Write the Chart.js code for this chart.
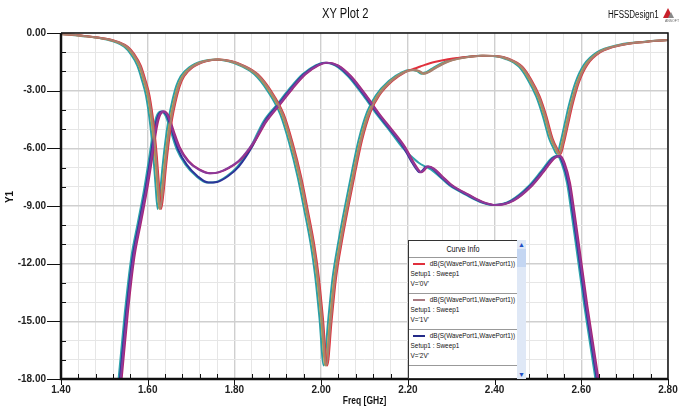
<!DOCTYPE html>
<html>
<head>
<meta charset="utf-8">
<title>XY Plot 2</title>
<script src="https://cdn.jsdelivr.net/npm/chart.js@4.4.1/dist/chart.umd.min.js"></script>
<style>
  html, body { margin: 0; padding: 0; background: #fff; }
  #wrap { position: relative; width: 692px; height: 408px; font-family: 'Liberation Sans', Arial, sans-serif; color: #111; }
  #plot { position: absolute; left: 0; top: 0; }
  .narrow { transform: scaleX(0.8); transform-origin: 0 0; white-space: nowrap; }
  #title { position: absolute; left: 322px; top: 5px; font-size: 14px; }
  #design { position: absolute; left: 608px; top: 9px; font-size: 10px; }
  #logo { position: absolute; left: 661px; top: 7px; }
  #curveInfo { position: absolute; left: 408px; top: 240px; width: 108px; height: 137px; border: 1px solid #333; background: #fff; overflow: hidden; }
  #curveInfo .inner { width: 135px; font-size: 8px; color: #111; }
  #curveInfo .head { height: 16px; line-height: 16px; text-align: center; font-size: 9px; border-bottom: 1px solid #999; }
  #curveInfo .entry { height: 36px; box-sizing: border-box; border-bottom: 1px solid #999; padding: 1px 0 0 2px; line-height: 10px; white-space: nowrap; }
  #curveInfo .swatch { display: inline-block; width: 15px; height: 2px; vertical-align: middle; margin: 0 6px 0 3px; }
  #scroll { position: absolute; left: 517px; top: 240px; width: 9px; height: 139px; background: #dfe8f6; }
  #scroll .thumb { position: absolute; left: 0; top: 9px; width: 9px; height: 18px; background: #c4d6f2; }
  #scroll .arr { position: absolute; left: 0; width: 9px; text-align: center; font-size: 7px; line-height: 9px; color: #1e4fc4; }
</style>
</head>
<body>
<div id="wrap">
  <canvas id="plot" width="692" height="408"></canvas>
  <div id="title" class="narrow">XY Plot 2</div>
  <div id="design" class="narrow">HFSSDesign1</div>
  <svg id="logo" width="22" height="16" viewBox="0 0 22 16">
    <polygon points="2,11 7,1 12,11" fill="#c8202a"/>
    <polygon points="7,11 10,5 13,11" fill="#888"/>
    <text x="11" y="15" font-size="3.5" text-anchor="middle" fill="#666" font-family="Liberation Sans, Arial">ANSOFT</text>
  </svg>
  <div id="curveInfo"><div class="inner narrow" id="curveInner"></div></div>
  <div id="scroll">
    <div class="thumb"></div>
    <div class="arr" style="top:0">&#9650;</div>
    <div class="arr" style="bottom:0">&#9660;</div>
  </div>
</div>
<script>
// ---- data ----
const xTickLabels = ['1.40', '1.60', '1.80', '2.00', '2.20', '2.40', '2.60', '2.80'];

// dB(S(WavePort1,WavePort1)) - frequencies [GHz] per bias voltage
const freqS11_0V = [
  1.40, 1.454, 1.504, 1.534, 1.554, 1.569, 1.584, 1.594, 1.604, 1.614,
  1.621, 1.626, 1.631, 1.636, 1.642, 1.649, 1.656, 1.664, 1.674, 1.684,
  1.704, 1.734, 1.764, 1.794, 1.824, 1.854, 1.884, 1.914, 1.934, 1.954,
  1.969, 1.984, 1.994, 2.004, 2.014, 2.024, 2.034, 2.049, 2.064, 2.079,
  2.094, 2.114, 2.134, 2.164, 2.194, 2.214, 2.229, 2.239, 2.249, 2.264,
  2.284, 2.304, 2.334, 2.374, 2.404, 2.434, 2.464, 2.484, 2.504, 2.519,
  2.534, 2.544, 2.552, 2.560, 2.569, 2.579, 2.594, 2.614, 2.644, 2.694,
  2.754, 2.80
];
const freqS11_1V = [
  1.40, 1.452, 1.502, 1.532, 1.552, 1.567, 1.582, 1.592, 1.602, 1.612,
  1.619, 1.624, 1.629, 1.634, 1.640, 1.647, 1.654, 1.662, 1.672, 1.682,
  1.702, 1.732, 1.762, 1.792, 1.822, 1.852, 1.882, 1.912, 1.932, 1.952,
  1.967, 1.982, 1.992, 2.002, 2.012, 2.022, 2.032, 2.047, 2.062, 2.077,
  2.092, 2.112, 2.132, 2.162, 2.192, 2.212, 2.227, 2.237, 2.247, 2.262,
  2.282, 2.302, 2.332, 2.372, 2.402, 2.432, 2.462, 2.482, 2.502, 2.517,
  2.532, 2.542, 2.550, 2.558, 2.567, 2.577, 2.592, 2.612, 2.642, 2.692,
  2.752, 2.80
];
const freqS11_2V = [
  1.40, 1.45, 1.50, 1.53, 1.55, 1.565, 1.58, 1.59, 1.60, 1.61,
  1.617, 1.622, 1.627, 1.632, 1.638, 1.645, 1.652, 1.66, 1.67, 1.68,
  1.70, 1.73, 1.76, 1.79, 1.82, 1.85, 1.88, 1.91, 1.93, 1.95,
  1.965, 1.98, 1.99, 2.00, 2.01, 2.02, 2.03, 2.045, 2.06, 2.075,
  2.09, 2.11, 2.13, 2.16, 2.19, 2.21, 2.225, 2.235, 2.245, 2.26,
  2.28, 2.30, 2.33, 2.37, 2.40, 2.43, 2.46, 2.48, 2.50, 2.515,
  2.53, 2.54, 2.548, 2.556, 2.565, 2.575, 2.59, 2.61, 2.64, 2.69,
  2.75, 2.80
];
const freqS11_3V = [
  1.40, 1.446, 1.496, 1.526, 1.546, 1.561, 1.576, 1.586, 1.596, 1.606,
  1.613, 1.618, 1.623, 1.628, 1.634, 1.641, 1.648, 1.656, 1.666, 1.676,
  1.696, 1.726, 1.756, 1.786, 1.816, 1.846, 1.876, 1.906, 1.926, 1.946,
  1.961, 1.976, 1.986, 1.996, 2.006, 2.016, 2.026, 2.041, 2.056, 2.071,
  2.086, 2.106, 2.126, 2.156, 2.186, 2.206, 2.221, 2.231, 2.241, 2.256,
  2.276, 2.296, 2.326, 2.366, 2.396, 2.426, 2.456, 2.476, 2.496, 2.511,
  2.526, 2.536, 2.544, 2.552, 2.561, 2.571, 2.586, 2.606, 2.636, 2.686,
  2.746, 2.80
];
// dB values
const dbS11 = [
  -0.05, -0.15, -0.30, -0.48, -0.72, -1.10, -1.70, -2.40, -3.25, -4.80,
  -6.40, -7.90, -9.15, -8.40, -7.00, -5.60, -4.50, -3.60, -2.75, -2.25,
  -1.78, -1.47, -1.38, -1.47, -1.72, -2.15, -3.00, -4.25, -5.70, -7.50,
  -9.20, -11.0, -12.6, -14.8, -17.3, -15.0, -12.8, -10.7, -8.9, -7.2,
  -5.6, -4.1, -3.25, -2.5, -2.05, -1.93, -1.98, -2.12, -2.05, -1.85,
  -1.60, -1.42, -1.27, -1.18, -1.20, -1.35, -1.75, -2.40, -3.30, -4.30,
  -5.50, -6.00, -6.30, -5.70, -4.80, -3.80, -2.60, -1.65, -1.00, -0.62,
  -0.45, -0.37
];
const dbS11_0V = [
  -0.05, -0.15, -0.30, -0.48, -0.72, -1.10, -1.70, -2.40, -3.25, -4.80,
  -6.40, -7.90, -9.15, -8.40, -7.00, -5.60, -4.50, -3.60, -2.75, -2.25,
  -1.78, -1.47, -1.38, -1.47, -1.72, -2.15, -3.00, -4.25, -5.70, -7.50,
  -9.20, -11.0, -12.6, -14.8, -17.3, -15.0, -12.8, -10.7, -8.9, -7.2,
  -5.6, -4.1, -3.25, -2.5, -2.03, -1.86, -1.74, -1.66, -1.59, -1.50,
  -1.40, -1.33, -1.25, -1.18, -1.20, -1.35, -1.75, -2.40, -3.30, -4.30,
  -5.50, -6.00, -6.30, -5.70, -4.80, -3.80, -2.60, -1.65, -1.00, -0.62,
  -0.45, -0.37
];

// dB(S(WavePort2,WavePort1))
const freqS21_0V = [
  1.504, 1.524, 1.539, 1.554, 1.569, 1.584, 1.599, 1.611, 1.621, 1.629,
  1.638, 1.648, 1.660, 1.674, 1.694, 1.719, 1.744, 1.764, 1.789, 1.814,
  1.844, 1.874, 1.904, 1.934, 1.964, 1.994, 2.014, 2.039, 2.069, 2.104,
  2.134, 2.164, 2.194, 2.214, 2.232, 2.247, 2.260, 2.279, 2.304, 2.339,
  2.374, 2.404, 2.444, 2.484, 2.514, 2.539, 2.552, 2.562, 2.574, 2.584,
  2.594, 2.614, 2.639, 2.664
];
const freqS21_1V = [
  1.502, 1.522, 1.537, 1.552, 1.567, 1.582, 1.597, 1.609, 1.619, 1.627,
  1.636, 1.646, 1.658, 1.672, 1.692, 1.717, 1.742, 1.762, 1.787, 1.812,
  1.842, 1.872, 1.902, 1.932, 1.962, 1.992, 2.012, 2.037, 2.067, 2.102,
  2.132, 2.162, 2.192, 2.212, 2.230, 2.245, 2.258, 2.277, 2.302, 2.337,
  2.372, 2.402, 2.442, 2.482, 2.512, 2.537, 2.550, 2.560, 2.572, 2.582,
  2.592, 2.612, 2.637, 2.662
];
const freqS21_2V = [
  1.50, 1.52, 1.535, 1.55, 1.565, 1.58, 1.595, 1.607, 1.617, 1.625,
  1.634, 1.644, 1.656, 1.67, 1.69, 1.715, 1.74, 1.76, 1.785, 1.81,
  1.84, 1.87, 1.90, 1.93, 1.96, 1.99, 2.01, 2.035, 2.065, 2.10,
  2.13, 2.16, 2.19, 2.21, 2.228, 2.243, 2.256, 2.275, 2.30, 2.335,
  2.37, 2.40, 2.44, 2.48, 2.51, 2.535, 2.548, 2.558, 2.57, 2.58,
  2.59, 2.61, 2.635, 2.66
];
const freqS21_3V = [
  1.497, 1.517, 1.532, 1.547, 1.562, 1.577, 1.592, 1.604, 1.614, 1.622,
  1.631, 1.641, 1.653, 1.667, 1.687, 1.712, 1.737, 1.757, 1.782, 1.807,
  1.837, 1.867, 1.897, 1.927, 1.957, 1.987, 2.007, 2.032, 2.062, 2.097,
  2.127, 2.157, 2.187, 2.207, 2.225, 2.240, 2.253, 2.272, 2.297, 2.332,
  2.367, 2.397, 2.437, 2.477, 2.507, 2.532, 2.545, 2.555, 2.567, 2.577,
  2.587, 2.607, 2.632, 2.657
];
const dbS21 = [
  -26, -21.5, -18.2, -14.6, -11.7, -9.9, -8.1, -6.4, -4.9, -4.25,
  -4.08, -4.3, -5.1, -5.95, -6.65, -7.1, -7.3, -7.25, -7.0, -6.6,
  -5.75, -4.6, -3.75, -2.9, -2.15, -1.68, -1.55, -1.68, -2.25, -3.25,
  -4.2, -5.05, -5.95, -6.75, -7.25, -6.95, -7.05, -7.45, -7.95, -8.4,
  -8.8, -8.95, -8.72, -8.0, -7.2, -6.5, -6.4, -6.8, -7.8, -9.3,
  -10.9, -14.2, -17.9, -22
];
const dbS21_2V = [
  -26, -21.5, -18.2, -14.6, -11.7, -9.9, -8.1, -6.4, -4.9, -4.25,
  -4.08, -4.3, -5.1, -6.05, -6.85, -7.45, -7.78, -7.75, -7.45, -6.95,
  -5.95, -4.6, -3.75, -2.9, -2.15, -1.68, -1.55, -1.68, -2.25, -3.25,
  -4.2, -5.05, -5.95, -6.75, -7.25, -6.95, -7.05, -7.45, -7.95, -8.4,
  -8.8, -8.95, -8.72, -8.0, -7.2, -6.5, -6.4, -6.8, -7.8, -9.3,
  -10.9, -14.2, -17.9, -22
];
const dbS21_3V = [
  -26, -21.5, -18.2, -14.6, -11.7, -9.9, -8.1, -6.4, -4.9, -4.25,
  -4.08, -4.3, -5.1, -6.05, -6.85, -7.45, -7.78, -7.75, -7.45, -6.95,
  -5.95, -4.6, -3.75, -2.9, -2.15, -1.68, -1.55, -1.68, -2.25, -3.25,
  -4.2, -5.05, -5.95, -6.4, -6.75, -6.95, -7.1, -7.45, -7.95, -8.4,
  -8.8, -8.95, -8.72, -8.0, -7.2, -6.5, -6.4, -6.8, -7.8, -9.3,
  -10.9, -14.2, -17.9, -22
];

// first entry is drawn on top
const traces = [
  { freq: freqS11_1V, db: dbS11,    color: '#a88070' },
  { freq: freqS21_1V, db: dbS21,    color: '#8a3a9a' },
  { freq: freqS11_0V, db: dbS11_0V, color: '#e0303c' },
  { freq: freqS21_0V, db: dbS21,    color: '#b0206e' },
  { freq: freqS11_2V, db: dbS11,    color: '#b89a48' },
  { freq: freqS21_2V, db: dbS21_2V, color: '#2c3498' },
  { freq: freqS11_3V, db: dbS11,    color: '#2a9fa6' },
  { freq: freqS21_3V, db: dbS21_3V, color: '#30a4ac' }
];

// legend (Curve Info) entries
const legendTrace = 'dB(S(WavePort1,WavePort1))';
const legendSetup = 'Setup1 : Sweep1';
const legendVolts = ["V='0V'", "V='1V'", "V='2V'"];
const legendColors = ['#e0303c', '#a87a80', '#232a88'];

// ---- legend box ----
const info = document.getElementById('curveInner');
let html = '<div class="head">Curve Info</div>';
for (let i = 0; i < legendVolts.length; i++) {
    html += `<div class="entry"><span class="swatch" style="background:${legendColors[i]}"></span>${legendTrace}` +
            `<div>${legendSetup}</div><div>${legendVolts[i]}</div></div>`;
}
info.innerHTML = html;

// ---- chart ----
const fontFam = "'Liberation Sans', Arial, sans-serif";

// tick marks (minor inward, major outward), frame and axis titles
const axesFrame = {
    id: 'axesFrame',
    afterDraw(chart) {
        const { ctx, chartArea: a } = chart;
        const xs = chart.scales.x, ys = chart.scales.y;
        ctx.save();
        ctx.strokeStyle = '#111';
        ctx.lineWidth = 1;
        xs.ticks.forEach((t, i) => {
            const px = Math.round(xs.getPixelForValue(t.value)) + 0.5;
            ctx.beginPath();
            if (i % 5 === 0) { ctx.moveTo(px, a.bottom); ctx.lineTo(px, a.bottom + 6); }
            else { ctx.moveTo(px, a.bottom); ctx.lineTo(px, a.bottom - 5); }
            ctx.stroke();
        });
        ys.ticks.forEach(t => {
            const py = Math.round(ys.getPixelForValue(t.value)) + 0.5;
            ctx.beginPath();
            if (t.value % 3 === 0) { ctx.moveTo(a.left - 14, py); ctx.lineTo(a.left, py); }
            else { ctx.moveTo(a.left, py); ctx.lineTo(a.left + 5, py); }
            ctx.stroke();
        });
        ctx.lineWidth = 1.5;
        ctx.beginPath();
        ctx.moveTo(a.left, a.top); ctx.lineTo(a.right, a.top); ctx.lineTo(a.right, a.bottom);
        ctx.stroke();
        ctx.lineWidth = 2.5;
        ctx.beginPath();
        ctx.moveTo(a.left, a.top); ctx.lineTo(a.left, a.bottom); ctx.lineTo(a.right, a.bottom);
        ctx.stroke();

        ctx.fillStyle = '#111';
        ctx.font = 'bold 10px ' + fontFam;
        ctx.textAlign = 'center';
        ctx.textBaseline = 'middle';
        ctx.save();
        ctx.translate((a.left + a.right) / 2, 401);
        ctx.scale(0.85, 1);
        ctx.fillText('Freq [GHz]', 0, 0);
        ctx.restore();
        ctx.translate(10, 197);
        ctx.rotate(-Math.PI / 2);
        ctx.fillText('Y1', 0, 0);
        ctx.restore();
    }
};

new Chart(document.getElementById('plot'), {
    type: 'line',
    data: {
        datasets: traces.map(t => ({
            data: t.freq.map((f, i) => ({ x: f, y: t.db[i] })),
            borderColor: t.color,
            borderWidth: 2,
            pointRadius: 0,
            fill: false,
            cubicInterpolationMode: 'monotone'
        }))
    },
    options: {
        responsive: false,
        devicePixelRatio: 1,
        animation: false,
        events: [],
        layout: { padding: { top: 33, right: 24, left: 0, bottom: 0 } },
        plugins: { legend: { display: false }, title: { display: false }, tooltip: { enabled: false } },
        scales: {
            x: {
                type: 'linear',
                min: 1.4,
                max: 2.8,
                afterFit: s => { s.height = 29; },
                afterBuildTicks: s => {
                    const ticks = [];
                    for (let i = 0; i <= 35; i++) ticks.push({ value: +(1.4 + i * 0.04).toFixed(2) });
                    s.ticks = ticks;
                },
                border: { display: false },
                grid: {
                    drawTicks: false,
                    color: c => (c.index % 5 === 0 ? '#cfcfcf' : '#e6e6e6'),
                    lineWidth: c => (c.index % 5 === 0 ? 1.4 : 1)
                },
                ticks: {
                    autoSkip: false,
                    maxRotation: 0,
                    padding: 5,
                    color: '#222',
                    font: { family: fontFam, size: 10, weight: 'bold' },
                    callback: (v, i) => (i % 5 === 0 ? xTickLabels[i / 5] : '')
                }
            },
            y: {
                type: 'linear',
                min: -18,
                max: 0,
                afterFit: s => { s.width = 61; },
                afterBuildTicks: s => {
                    const ticks = [];
                    for (let v = -18; v <= 0; v++) ticks.push({ value: v });
                    s.ticks = ticks;
                },
                border: { display: false },
                grid: {
                    drawTicks: false,
                    color: c => (c.tick.value % 3 === 0 ? '#cfcfcf' : '#e6e6e6'),
                    lineWidth: c => (c.tick.value % 3 === 0 ? 1.4 : 1)
                },
                ticks: {
                    autoSkip: false,
                    padding: 15,
                    color: '#222',
                    font: { family: fontFam, size: 10, weight: 'bold' },
                    callback: v => (v % 3 === 0 ? (v === 0 ? '0.00' : v.toFixed(2)) : '')
                }
            }
        }
    },
    plugins: [axesFrame]
});
</script>
</body>
</html>
